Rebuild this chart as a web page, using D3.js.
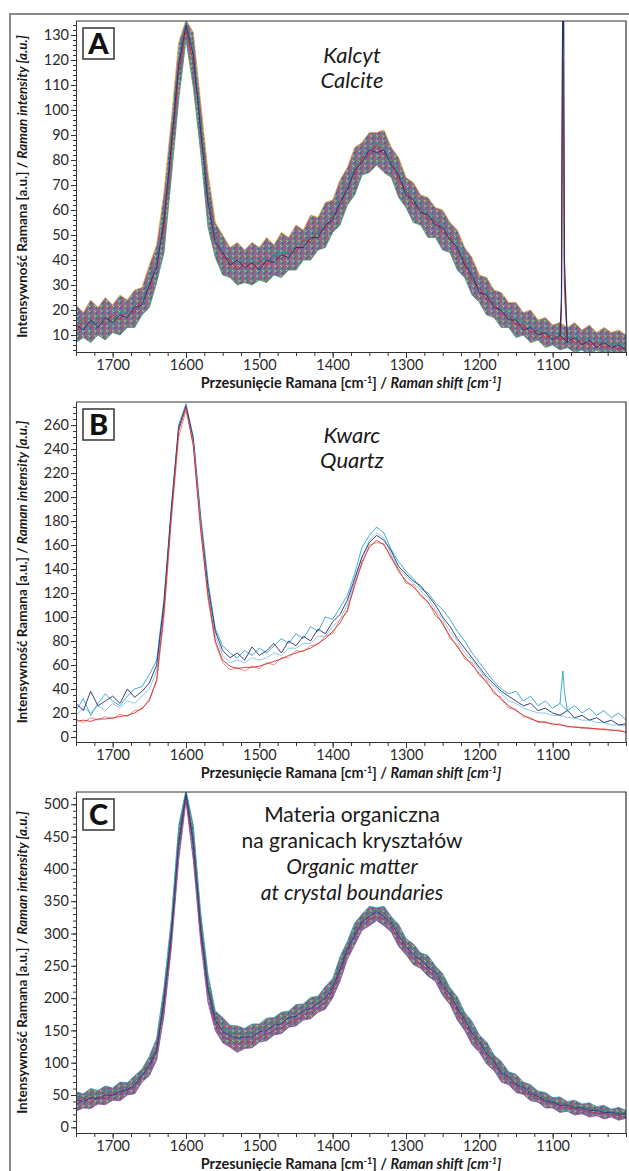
<!DOCTYPE html>
<html>
<head>
<meta charset="utf-8">
<script src="https://cdn.jsdelivr.net/npm/d3@7"></script>
<style>
  body { margin: 0; background: #fff; }
  svg { display: block; font-family: Lato, "Open Sans", sans-serif; }
  .axis path, .axis line { stroke: #333; }
  .axis text { font-size: 14.5px; fill: #2a2a2a; font-family: Lato, sans-serif; }
</style>
</head>
<body>
<svg id="chart"></svg>
<script>
// x grid shared by all spectra (Raman shift, cm-1)
const wavenumbers = [
  1750,1740,1730,1720,1710,1700,1690,1680,1670,1660,
  1650,1640,1630,1620,1610,1600,1590,1580,1570,1560,
  1550,1540,1530,1520,1510,1500,1490,1480,1470,1460,
  1450,1440,1430,1420,1410,1400,1390,1380,1370,1360,
  1350,1340,1330,1320,1310,1300,1290,1280,1270,1260,
  1250,1240,1230,1220,1210,1200,1190,1180,1170,1160,
  1150,1140,1130,1120,1110,1100,1090,1080,1070,1060,
  1050,1040,1030,1020,1010,1000];

const xTicks = [1700,1600,1500,1400,1300,1200,1100];

// ---- A: calcite ----
const yTicksA = [10,20,30,40,50,60,70,80,90,100,110,120,130];
const calciteHi = [
  22,19,24,21,25,22,26,24,28,29,
  38,46,67,96,127,136,131,103,75,55,
  50,45,47,44,47,45,49,46,51,49,
  54,52,58,57,63,64,72,77,85,87,
  91,91,92,85,81,73,71,66,65,61,
  60,55,52,45,41,34,33,28,27,23,
  23,19,20,16,17,14,15,13,15,12,
  14,11,13,11,12,10];
const calciteLo = [
  7,9,7,10,8,11,10,13,13,18,
  21,31,43,73,104,128,109,83,53,41,
  34,33,30,31,30,32,31,34,33,36,
  36,40,40,44,45,51,54,62,66,74,
  75,78,75,73,65,61,55,54,49,49,
  44,43,36,33,26,23,18,17,13,13,
  9,10,7,8,5,6,4,5,3,4,
  2,4,1,3,1,2];
const calcite1 = [
  14,12,16,13,17,15,18,17,21,22,
  30,37,56,86,118,134,122,92,63,47,
  43,38,40,37,39,36,40,39,42,41,
  45,45,49,49,54,56,63,68,76,79,
  84,83,84,78,74,66,64,59,58,54,
  53,48,45,38,34,27,26,21,20,16,
  16,12,13,10,11,8,10,7,9,6,
  8,5,7,5,6,4];
const calcite2 = [
  11,16,13,17,14,18,16,20,19,25,
  28,40,53,83,115,132,119,95,66,50,
  41,40,36,39,36,40,38,42,40,44,
  43,48,47,52,52,58,61,70,74,81,
  82,86,82,81,72,68,62,61,56,56,
  51,50,43,40,32,29,24,23,18,18,
  14,14,11,12,9,10,8,9,7,8,
  6,7,5,6,4,5];
const calcite3 = [
  17,15,12,18,15,14,19,19,22,24,
  31,39,57,88,120,135,124,94,65,49,
  44,41,39,40,40,39,41,41,43,43,
  46,47,50,51,55,58,64,70,77,82,
  85,87,85,80,75,69,65,61,59,56,
  54,50,46,41,35,30,27,23,21,18,
  17,15,14,12,12,10,11,9,10,8,
  9,7,8,6,7,5];
// sharp calcite band near 1086 cm-1
const spikeX = [1090,1088,1087,1086,1085,1084,1080];
const spike1 = [10,25,110,150,140,40,7];
const spike2 = [8,20,90,120,95,30,9];
const spike3 = [11,18,70,100,80,25,9];

// ---- B: quartz ----
const yTicksB = [0,20,40,60,80,100,120,140,160,180,200,220,240,260];
const quartz1 = [
  13,14,13,15,15,16,17,18,20,24,
  30,48,105,185,255,275,242,172,118,80,
  64,59,57,58,58,59,61,63,65,68,
  70,72,74,78,82,88,95,106,126,146,
  158,164,160,150,138,130,125,119,112,104,
  94,84,75,67,60,53,45,38,31,26,
  22,18,15,13,12,11,10,9,8,8,
  7,7,6,6,5,4];
const quartz2 = [
  15,12,16,14,17,15,19,17,22,23,
  32,46,100,180,250,272,245,178,115,78,
  62,56,58,55,59,57,62,60,66,66,
  72,71,76,77,84,86,98,104,128,144,
  160,162,161,148,140,128,127,117,113,101,
  96,82,77,65,62,51,47,36,33,24,
  23,17,16,12,13,10,11,8,9,7,
  8,6,7,5,6,4];
const quartz3 = [
  28,22,38,26,30,34,28,40,33,38,
  45,60,112,190,258,276,248,180,125,88,
  72,66,70,64,75,68,72,78,70,80,
  76,84,80,90,86,96,102,114,132,150,
  162,168,164,155,142,136,130,126,118,110,
  100,92,82,74,66,58,50,44,38,34,
  30,26,28,22,24,20,18,22,16,18,
  14,16,12,14,10,11];
const quartz4 = [
  22,32,18,28,36,30,26,34,40,42,
  52,64,115,192,260,278,250,185,130,90,
  76,70,66,72,68,74,70,76,82,78,
  86,82,92,88,100,98,108,118,136,158,
  168,175,170,156,146,138,132,124,120,112,
  106,98,88,80,70,62,54,46,40,36,
  38,30,34,26,30,24,28,22,26,20,
  24,18,22,16,20,14];
const quartz5 = [
  18,24,20,26,22,28,24,30,28,34,
  40,55,108,186,256,274,246,176,120,84,
  68,62,64,62,66,64,66,70,68,74,
  74,78,78,84,84,92,98,110,130,150,
  164,170,166,152,140,134,128,122,116,106,
  98,88,80,70,64,56,48,42,36,30,
  28,24,22,20,20,18,18,16,16,14,
  14,12,12,10,10,9];
const quartzSpikeX = [1090,1088,1086,1084,1080];
const quartzSpike = [28,42,55,38,22];

// ---- C: organic matter ----
const yTicksC = [0,50,100,150,200,250,300,350,400,450,500];
const organicHi = [
  55,52,60,57,64,61,70,69,80,90,
  110,138,217,323,467,522,467,333,237,180,
  170,158,157,153,160,160,169,170,178,180,
  190,191,201,203,218,230,264,288,316,330,
  342,340,342,326,314,292,284,270,266,250,
  238,216,202,178,164,143,132,112,102,86,
  82,70,66,56,54,46,47,40,42,36,
  38,32,34,28,31,26];
const organicLo = [
  25,30,29,36,35,42,41,50,52,70,
  80,104,173,277,413,505,413,287,193,150,
  131,124,116,122,123,132,134,143,145,155,
  157,166,168,178,183,200,226,260,282,305,
  312,320,312,302,280,267,252,246,234,226,
  204,190,166,150,128,116,98,88,70,66,
  54,51,41,39,30,30,23,25,19,21,
  16,18,13,16,11,14];
const organic1 = [
  35,44,38,47,44,52,50,58,62,80,
  92,118,190,295,435,512,435,305,210,160,
  140,135,128,134,132,140,144,150,154,162,
  166,174,178,186,194,210,240,270,296,314,
  322,326,322,310,290,274,262,252,244,232,
  216,198,180,160,142,124,110,96,82,72,
  64,56,50,44,40,36,32,30,28,26,
  24,22,21,19,18,16];
const organic2 = [
  48,46,50,52,56,55,60,63,70,86,
  98,124,200,305,445,518,445,315,220,170,
  155,146,145,144,148,152,158,163,168,174,
  180,186,192,196,206,220,250,280,305,322,
  332,336,332,320,302,286,274,264,256,244,
  228,210,190,170,152,135,120,104,90,80,
  72,63,56,50,45,40,37,35,33,31,
  29,27,26,24,23,22];
const organic3 = [
  42,40,46,44,50,49,56,58,66,80,
  96,120,196,300,440,516,440,308,214,166,
  148,142,138,140,140,148,150,158,160,170,
  172,180,184,192,200,216,244,276,298,318,
  326,334,326,316,296,280,266,260,248,240,
  220,206,184,166,146,132,114,102,84,78,
  66,62,52,48,41,39,34,34,30,30,
  26,26,23,23,20,21];

const W = 629, H = 1171;
const left = 76, right = 626;

const svg = d3.select("#chart").attr("width", W).attr("height", H);
const defs = svg.append("defs");

// multicoloured texture standing in for the dense overlay of noisy spectra
const pat = defs.append("pattern")
  .attr("id", "noise")
  .attr("width", 6).attr("height", 5)
  .attr("patternUnits", "userSpaceOnUse");
pat.append("rect").attr("width", 6).attr("height", 5).attr("fill", "#5e5a86");
[[0,4,2,1,"#27306e"],[2,1,4,4,"#d3263a"],[4,4,6,0,"#1b9aa0"],
 [0,0,1,2,"#3a9a4a"],[4,0,6,2,"#e0a040"],[1,5,3,3,"#8a3a8a"],[3,3,5,5,"#c23050"]].forEach(s => {
  pat.append("line")
    .attr("x1", s[0]).attr("y1", s[1]).attr("x2", s[2]).attr("y2", s[3])
    .attr("stroke", s[4]).attr("stroke-width", 1);
});

const x = d3.scaleLinear().domain([1750, 1000]).range([left, right]);

function pairs(xs, ys) {
  return xs.map((v, i) => [v, ys[i]]);
}

function drawPanel(p) {
  const y = d3.scaleLinear().domain(p.domain).range([p.bottom, p.top]);
  const g = svg.append("g");

  defs.append("clipPath").attr("id", "clip-" + p.id)
    .append("rect")
    .attr("x", left).attr("y", p.top)
    .attr("width", right - left).attr("height", p.bottom - p.top);

  const plot = g.append("g").attr("clip-path", `url(#clip-${p.id})`);
  const line = d3.line().x(d => x(d[0])).y(d => y(d[1]));

  if (p.band) {
    const area = d3.area()
      .x((d, i) => x(wavenumbers[i]))
      .y0((d, i) => y(p.band.lo[i]))
      .y1((d, i) => y(p.band.hi[i]));
    plot.append("path")
      .attr("d", area(p.band.hi))
      .attr("fill", "url(#noise)")
      .attr("opacity", 0.85);
    plot.append("path")
      .attr("d", line(pairs(wavenumbers, p.band.hi)))
      .attr("fill", "none").attr("stroke", p.band.hiColor).attr("stroke-width", 0.8);
    plot.append("path")
      .attr("d", line(pairs(wavenumbers, p.band.lo)))
      .attr("fill", "none").attr("stroke", p.band.loColor).attr("stroke-width", 0.8);
  }

  p.series.forEach(s => {
    plot.append("path")
      .attr("d", line(pairs(s.x || wavenumbers, s.values)))
      .attr("fill", "none")
      .attr("stroke", s.color)
      .attr("stroke-width", s.width || 0.9)
      .attr("stroke-linejoin", "round");
  });

  // frame: top and right edges
  g.append("path")
    .attr("d", `M${left},${p.top}H${right}V${p.bottom}`)
    .attr("fill", "none").attr("stroke", "#333").attr("stroke-width", 1.2);

  // minor ticks (no labels)
  g.append("g").attr("class", "axis")
    .attr("transform", `translate(${left},0)`)
    .call(d3.axisLeft(y).tickValues(d3.range(Math.ceil(p.domain[0] / p.minor) * p.minor, p.domain[1], p.minor))
      .tickSize(3).tickSizeOuter(0))
    .selectAll("text").remove();
  g.append("g").attr("class", "axis")
    .attr("transform", `translate(0,${p.bottom})`)
    .call(d3.axisBottom(x).tickValues(d3.range(1750, 999, -25)).tickSize(4).tickSizeOuter(0))
    .selectAll("text").remove();

  // major ticks + labels
  g.append("g").attr("class", "axis")
    .attr("transform", `translate(${left},0)`)
    .call(d3.axisLeft(y).tickValues(p.ticks).tickSize(5).tickSizeOuter(0).tickPadding(2));
  g.append("g").attr("class", "axis")
    .attr("transform", `translate(0,${p.bottom})`)
    .call(d3.axisBottom(x).tickValues(xTicks).tickFormat(d3.format("d"))
      .tickSize(6).tickSizeOuter(0).tickPadding(2));

  // y title
  const yt = g.append("text")
    .attr("transform", `translate(27,${(p.top + p.bottom) / 2}) rotate(-90)`)
    .attr("text-anchor", "middle")
    .attr("font-size", 13.5).attr("font-weight", "bold").attr("fill", "#1a1a1a");
  yt.append("tspan").text("Intensywność Ramana [a.u.] / ");
  yt.append("tspan").attr("font-style", "italic").text("Raman intensity [a.u.]");

  // x title
  const xt = g.append("text")
    .attr("x", (left + right) / 2).attr("y", p.bottom + 36)
    .attr("text-anchor", "middle")
    .attr("font-size", 14.5).attr("font-weight", "bold").attr("fill", "#1a1a1a");
  xt.append("tspan").text("Przesunięcie Ramana [cm");
  xt.append("tspan").attr("font-size", 9).attr("dy", -5).text("-1");
  xt.append("tspan").attr("dy", 5).text("] / ");
  xt.append("tspan").attr("font-style", "italic").text("Raman shift [cm");
  xt.append("tspan").attr("font-style", "italic").attr("font-size", 9).attr("dy", -5).text("-1");
  xt.append("tspan").attr("font-style", "italic").attr("dy", 5).text("]");

  // panel letter box
  g.append("rect")
    .attr("x", 83).attr("y", p.top + 7).attr("width", 31).attr("height", 31)
    .attr("fill", "#fff").attr("stroke", "#333").attr("stroke-width", 1.5);
  g.append("text")
    .attr("x", 98.5).attr("y", p.top + 33)
    .attr("text-anchor", "middle")
    .attr("font-size", 29).attr("font-weight", "900").attr("fill", "#111")
    .text(p.id);

  p.title.forEach((t, i) => {
    g.append("text")
      .attr("x", 352).attr("y", p.top + p.titleY + i * p.titleStep)
      .attr("text-anchor", "middle")
      .attr("font-size", p.titleSize).attr("fill", "#1a1a1a")
      .attr("font-style", t.italic ? "italic" : "normal")
      .text(t.text);
  });
}

drawPanel({
  id: "A", top: 21, bottom: 352, domain: [3.2, 135.6], ticks: yTicksA, minor: 2,
  band: { hi: calciteHi, lo: calciteLo, hiColor: "#e2a23a", loColor: "#3aa060" },
  series: [
    { values: calcite2, color: "#d3263a" },
    { values: calcite3, color: "#1b9aa0" },
    { values: calcite1, color: "#27306e" },
    { x: spikeX, values: spike3, color: "#e0a040" },
    { x: spikeX, values: spike2, color: "#d3263a" },
    { x: spikeX, values: spike1, color: "#27306e", width: 1.2 }
  ],
  titleY: 42, titleStep: 25, titleSize: 22,
  title: [{ text: "Kalcyt", italic: true }, { text: "Calcite", italic: true }]
});

drawPanel({
  id: "B", top: 402, bottom: 742, domain: [-4.2, 279.2], ticks: yTicksB, minor: 5,
  series: [
    { values: quartz5, color: "#7cc4e4" },
    { values: quartz4, color: "#2ba0cf" },
    { x: quartzSpikeX, values: quartzSpike, color: "#2ba0cf" },
    { values: quartz3, color: "#252a6e" },
    { values: quartz2, color: "#e5846a" },
    { values: quartz1, color: "#cf2f38" }
  ],
  titleY: 41, titleStep: 25, titleSize: 22,
  title: [{ text: "Kwarc", italic: true }, { text: "Quartz", italic: true }]
});

drawPanel({
  id: "C", top: 792, bottom: 1133, domain: [-8.8, 519], ticks: yTicksC, minor: 10,
  band: { hi: organicHi, lo: organicLo, hiColor: "#2aa0a0", loColor: "#8a4a9a" },
  series: [
    { values: organic2, color: "#2a8c5a" },
    { values: organic1, color: "#b03070" },
    { values: organic3, color: "#2a3a8c" }
  ],
  titleY: 30, titleStep: 26, titleSize: 21,
  title: [
    { text: "Materia organiczna" },
    { text: "na granicach kryształów" },
    { text: "Organic matter", italic: true },
    { text: "at crystal boundaries", italic: true }
  ]
});

// outer grey frame
svg.append("path")
  .attr("d", `M10,${H}V14H${W}`)
  .attr("fill", "none").attr("stroke", "#8a8a8a").attr("stroke-width", 2);
</script>
</body>
</html>
